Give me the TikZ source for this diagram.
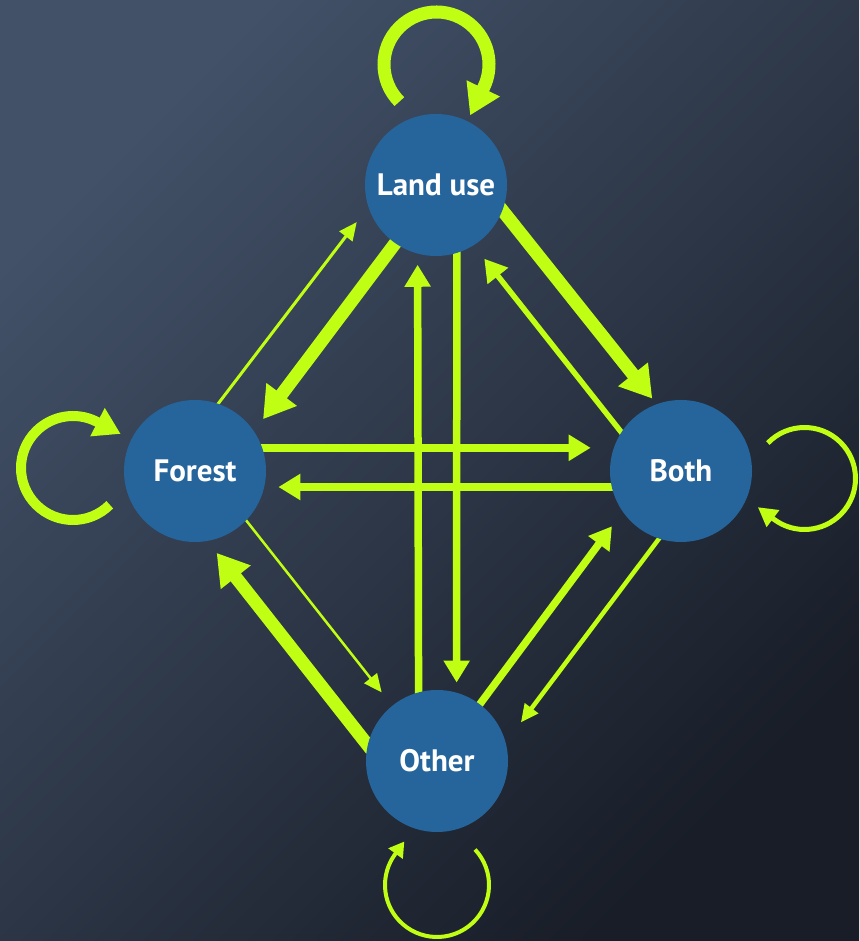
\documentclass[tikz,border=0pt]{standalone}
\usepackage{fontspec}
\setsansfont{PT Sans}
\usetikzlibrary{arrows.meta}
\definecolor{bgtop}{RGB}{66,81,104}
\definecolor{bgbottom}{RGB}{24,29,39}
\definecolor{nodeblue}{RGB}{38,101,155}
\definecolor{flowgreen}{RGB}{192,255,20}
\pgfdeclarelayer{back}
\pgfdeclarelayer{flows}
\pgfsetlayers{back,flows,main}
\tikzset{
state/.style = {circle, fill=nodeblue, minimum size=142pt, inner sep=0pt, text=white, font=\sffamily\bfseries\fontsize{31}{36}\selectfont},
thinarrow/.style = {draw=flowgreen, line width=3pt, shorten <=-6pt, -{Triangle[length=18pt, width=16pt]}},
arrow/.style = {draw=flowgreen, line width=7.5pt, shorten <=-6pt, -{Triangle[length=22pt, width=25pt]}},
thickarrow/.style = {draw=flowgreen, line width=13pt, shorten <=-6pt, -{Triangle[length=31pt, width=36pt]}},
selfloop/.style n args = {3}{draw=flowgreen, line width=#1, -{Triangle[length=#2, width=#3]}}
}

\begin{document}
\begin{tikzpicture}[x=1pt, y=1pt]

\begin{pgfonlayer}{back}
\shade [top color=bgtop, bottom color=bgbottom, shading angle=45] (0,0) rectangle (859,941);
\end{pgfonlayer}
\useasboundingbox (0,0) rectangle (859,941);

\node (landuse) [state] at (436,756) {Land use};
\node (forest) [state] at (195,470) {Forest};
\node (both) [state] at (681,470) {Both};
\node (other) [state] at (437,180) {Other};

\begin{pgfonlayer}{flows}
% between land use and forest
\draw [thinarrow, shorten >=19pt] (forest.71) -- (landuse.198);
\draw [thickarrow, shorten >=15pt] (landuse.235) -- (forest.34);
% between land use and other
\draw [arrow, shorten >=10pt] (landuse.287) -- (other.74);
\draw [arrow, shorten >=11pt] (other.105) -- (landuse.255);
% between land use and both
\draw [thickarrow, shorten >=7pt] (landuse.-21) -- (both.110);
\draw [arrow, line width=5.5pt, shorten >=17pt] (both.147) -- (landuse.-58);
% between forest and both
\draw [arrow, shorten >=23pt] (forest.19) -- (both.161);
\draw [arrow, shorten >=14pt] (both.193) -- (forest.-13);
% between forest and other
\draw [thinarrow, line width=2.5pt, shorten >=17pt] (forest.-44) -- (other.129);
\draw [thickarrow, shorten >=15pt] (other.167) -- (forest.-80);
% between other and both
\draw [arrow, shorten >=18pt] (other.53) -- (both.215);
\draw [thinarrow, line width=4.5pt, shorten >=25pt] (both.252) -- (other.15);
\end{pgfonlayer}

% self loops
\draw [selfloop={13pt}{30pt}{35pt}] (landuse.center) ++(0.5,120.5) ++(225:52.5) arc[start angle=225, end angle=-26, radius=52.5] -- ++(244:31);
\draw [selfloop={10pt}{26pt}{30pt}] (forest.center) ++(-122,3) ++(-45:52) arc[start angle=-45, end angle=-297, radius=52] -- ++(-27:27);
\draw [selfloop={5pt}{19pt}{20pt}] (both.center) ++(123.5,-7.5) ++(136:51) arc[start angle=136, end angle=-127, radius=51] -- ++(143:20);
\draw [selfloop={4pt}{15pt}{17pt}] (other.center) ++(0,-124) ++(43:52) arc[start angle=43, end angle=-216, radius=52] -- ++(54:16);

\end{tikzpicture}
\end{document}
